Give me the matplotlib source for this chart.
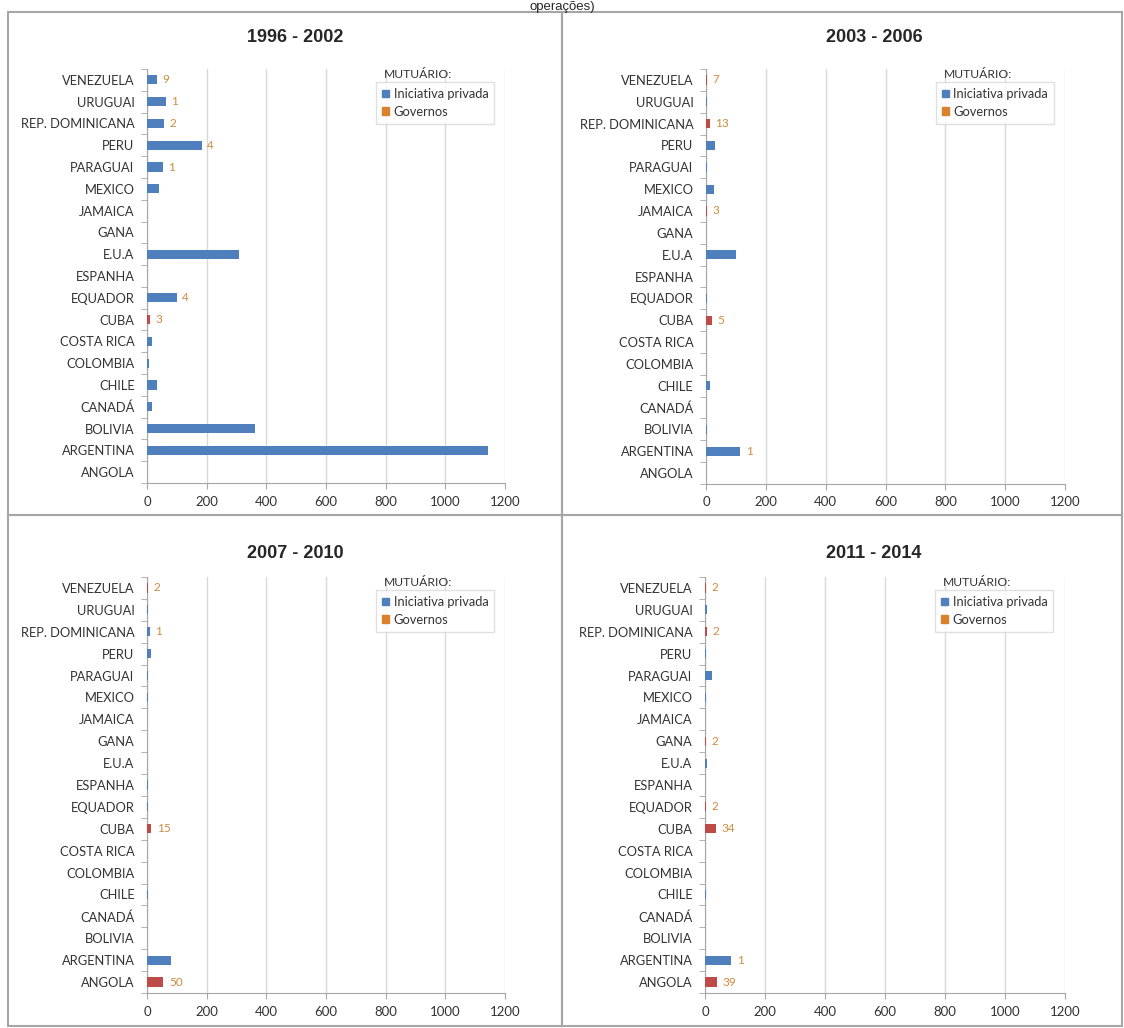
import numpy as np
import matplotlib
matplotlib.use("Agg")
import matplotlib.pyplot as plt
from matplotlib.patches import Rectangle, Patch


# ## ---- ## #
# ## Data ## #
# ## ---- ## #

countries = ["ANGOLA", "ARGENTINA", "BOLIVIA", "CANADÁ", "CHILE", "COLOMBIA",
             "COSTA RICA", "CUBA", "EQUADOR", "ESPANHA", "E.U.A", "GANA",
             "JAMAICA", "MEXICO", "PARAGUAI", "PERU", "REP. DOMINICANA",
             "URUGUAI", "VENEZUELA"]

periods = ["1996 - 2002", "2003 - 2006", "2007 - 2010", "2011 - 2014"]

# Values in the same order as countries (bottom -> top)
private_1996 = [0, 1143, 362, 18, 32, 8, 18, 0, 100, 0, 308, 0, 0, 40, 53, 183, 57, 63, 33]
gov_1996 = [0, 0, 0, 0, 0, 0, 0, 10, 0, 0, 0, 0, 0, 0, 0, 0, 0, 0, 0]
ops_1996 = ["", "", "", "", "", "", "", "3", "4", "", "", "", "", "", "1", "4", "2", "1", "9"]

private_2003 = [0, 114, 3, 0, 13, 0, 0, 0, 3, 0, 100, 0, 0, 26, 3, 29, 0, 3, 0]
gov_2003 = [0, 0, 0, 0, 0, 0, 0, 20, 0, 0, 0, 0, 3, 0, 0, 0, 12, 0, 4]
ops_2003 = ["", "1", "", "", "", "", "", "5", "", "", "", "", "3", "", "", "", "13", "", "7"]

private_2007 = [0, 79, 0, 0, 3, 0, 0, 0, 3, 5, 0, 0, 0, 3, 3, 12, 10, 2, 0]
gov_2007 = [55, 0, 0, 0, 0, 0, 0, 14, 0, 0, 0, 0, 0, 0, 0, 0, 0, 0, 3]
ops_2007 = ["50", "", "", "", "", "", "", "15", "", "", "", "", "", "", "", "", "1", "", "2"]

private_2011 = [0, 88, 0, 0, 3, 0, 0, 0, 0, 0, 5, 0, 0, 3, 24, 3, 0, 8, 0]
gov_2011 = [41, 0, 0, 0, 0, 0, 0, 37, 3, 0, 0, 3, 0, 0, 0, 0, 8, 0, 3]
ops_2011 = ["39", "1", "", "", "", "", "", "34", "2", "", "", "2", "", "", "", "", "2", "", "2"]

x_ticks = [0, 200, 400, 600, 800, 1000, 1200]

BLUE = "#4F7FBC"
RED = "#BE4B48"
ORANGE = "#D9822B"
LABEL_ORANGE = "#D08A3E"
GRID = "#D9D9D9"
AXIS = "#A6A6A6"
TEXT = "#333333"

W, H = 1124, 1028
plt.rcParams["font.family"] = ["Lato", "DejaVu Sans"]


def fx(px):
    return px / W


def fy(py):
    return 1 - py / H


def draw_panel(ax, private, gov, ops):
    y = np.arange(len(countries))
    ax.barh(y, private, height=0.42, color=BLUE, zorder=3)
    bars_g = ax.barh(y, gov, left=private, height=0.42, color=RED, zorder=3)
    ax.bar_label(bars_g, labels=ops, padding=4, color=LABEL_ORANGE, fontsize=8.5)

    ax.set_xlim(0, 1200)
    ax.set_ylim(-0.5, len(countries) - 0.5)
    ax.set_xticks(x_ticks)
    ax.set_yticks(y)
    ax.set_yticklabels(countries)
    ax.set_yticks(np.arange(len(countries) + 1) - 0.5, minor=True)

    ax.tick_params(axis="y", which="major", length=0, pad=9, labelsize=9.3, labelcolor=TEXT)
    ax.tick_params(axis="y", which="minor", length=4, color=AXIS, direction="out")
    ax.tick_params(axis="x", which="major", length=4, color=AXIS, pad=5, labelsize=9.5, labelcolor=TEXT)

    ax.grid(axis="x", color=GRID, linewidth=1, zorder=0)
    for side in ["top", "right"]:
        ax.spines[side].set_visible(False)
    for side in ["left", "bottom"]:
        ax.spines[side].set_color(AXIS)

    handles = [Patch(color=BLUE, label="Iniciativa privada"),
               Patch(color=ORANGE, label="Governos")]
    leg = ax.legend(handles=handles, loc="upper left", bbox_to_anchor=(0.64, 0.968),
                    frameon=True, fancybox=False, fontsize=9.3, handlelength=0.55,
                    handleheight=0.55, handletextpad=0.35, borderpad=0.45,
                    labelspacing=0.45, borderaxespad=0)
    leg.get_frame().set_edgecolor(GRID)
    leg.get_frame().set_linewidth(1)
    for t in leg.get_texts():
        t.set_color(TEXT)
    leg.set_zorder(5)
    ax.text(0.662, 0.987, "MUTUÁRIO:", transform=ax.transAxes, fontsize=8.7,
            color=TEXT, va="center", ha="left")


fig = plt.figure(figsize=(W / 100, H / 100), dpi=100)

# Panel frames
frames = [(8, 12, 562, 515), (562, 12, 1122, 515), (8, 515, 562, 1026), (562, 515, 1122, 1026)]
for x0, y0, x1, y1 in frames:
    fig.add_artist(Rectangle((fx(x0), fy(y1)), fx(x1) - fx(x0), fy(y0) - fy(y1),
                             transform=fig.transFigure, fill=False,
                             edgecolor="#A6A6A6", linewidth=1.5))

# Axes placement (pixels: left, right, top, bottom)
boxes = [(147, 505, 69, 483), (706, 1065, 69, 484), (147, 505, 577, 993), (705, 1065, 577, 993)]
titles_xy = [(295, 38), (874, 38), (295, 553), (874, 553)]
panels = [(private_1996, gov_1996, ops_1996), (private_2003, gov_2003, ops_2003),
          (private_2007, gov_2007, ops_2007), (private_2011, gov_2011, ops_2011)]

for (l, r, t, b), (tx, ty), title, (priv, gov, ops) in zip(boxes, titles_xy, periods, panels):
    ax = fig.add_axes([fx(l), fy(b), fx(r) - fx(l), fy(t) - fy(b)])
    draw_panel(ax, priv, gov, ops)
    fig.text(fx(tx), fy(ty), title, ha="center", va="center", fontsize=13,
             fontweight="bold", family="Liberation Sans", color="#262626")

# Heading fragment at the top of the image
fig.text(0.5, fy(10), "operações)", ha="center", va="baseline", fontsize=9.5,
         family="Liberation Sans", color="#262626")

fig.savefig("out.png", dpi=100)
